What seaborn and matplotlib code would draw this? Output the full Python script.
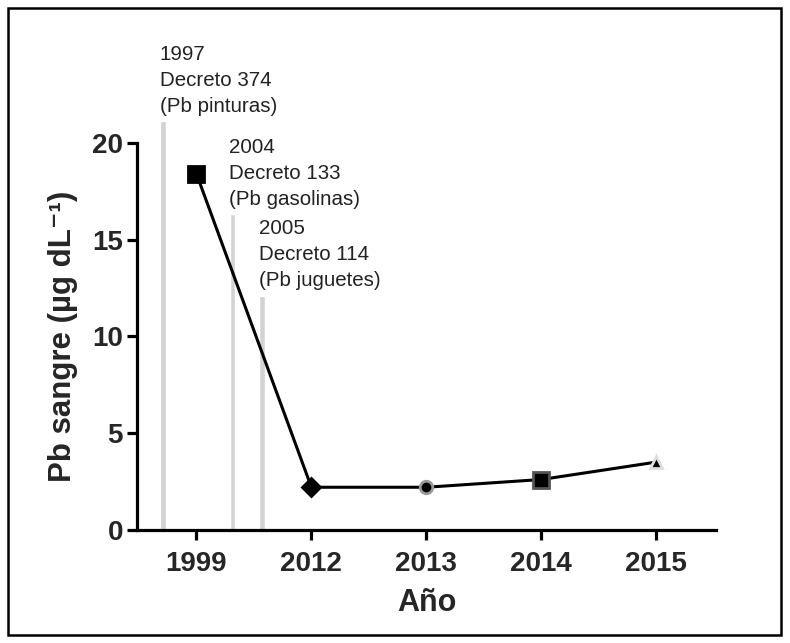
"""
plot.py — Pb en sangre por año, con decretos marcados como barras grises.
"""

import numpy as np
import matplotlib
matplotlib.use("Agg")
import matplotlib.pyplot as plt
from matplotlib.patches import Rectangle
import seaborn as sns

# datos
years = ["1999", "2012", "2013", "2014", "2015"]
pb_blood = [18.4, 2.2, 2.2, 2.6, 3.5]
point_markers = ["s", "D", "o", "s", "^"]
point_sizes = [11, 9, 9, 11, 8]
point_edges = ["black", "black", "#9a9a9a", "#555555", "#dddddd"]

decree_labels = [
    "1997\nDecreto 374\n(Pb pinturas)",
    "2004\nDecreto 133\n(Pb gasolinas)",
    "2005\nDecreto 114\n(Pb juguetes)",
]
decree_pos = [-0.29, 0.317, 0.57]
decree_top = [21.1, 16.3, 12.1]

sns.set_style("white")
plt.rcParams["font.family"] = ["Liberation Sans", "DejaVu Sans"]

fig = plt.figure(figsize=(7.9, 6.43), dpi=100)
ax = fig.add_axes([0.1734, 0.176, 0.733, 0.602])

x = np.arange(len(years))

# barras de los decretos
ax.bar(decree_pos, decree_top, width=0.045, color="#d3d3d3", clip_on=False, zorder=1)
for px, top, lab in zip(decree_pos, decree_top, decree_labels):
    ax.text(px - 0.03, top + 0.3, lab, ha="left", va="bottom", fontsize=14.8,
            color="#222222", clip_on=False, linespacing=1.45)

sns.lineplot(x=x, y=pb_blood, color="black", linewidth=2.2, ax=ax, zorder=3)
for xi, yi, m, s, ec in zip(x, pb_blood, point_markers, point_sizes, point_edges):
    ax.plot(xi, yi, marker=m, markersize=s, color="black", markeredgecolor=ec,
            markeredgewidth=2, linestyle="none", zorder=4, clip_on=False)

ax.set_xlim(-0.517, 4.52)
ax.set_ylim(0, 20)
ax.set_xticks(x)
ax.set_xticklabels(years)
ax.set_yticks([0, 5, 10, 15, 20])

sns.despine(ax=ax)
for side in ["left", "bottom"]:
    ax.spines[side].set_linewidth(2.3)
    ax.spines[side].set_color("black")
ax.tick_params(axis="both", direction="out", length=7, width=2.3, color="black",
               labelsize=20, left=True, bottom=True)
ax.tick_params(axis="y", pad=3)
ax.tick_params(axis="x", pad=8)
for lab in ax.get_xticklabels() + ax.get_yticklabels():
    lab.set_fontweight("bold")

ax.set_xlabel("Año", fontsize=22, fontweight="bold", labelpad=8)
ax.set_ylabel("Pb sangre (µg dL⁻¹)", fontsize=22.5, fontweight="bold", labelpad=10)

# marco negro alrededor de la figura
fig.patches.append(Rectangle((0.0095, 0.0125), 0.979, 0.975, transform=fig.transFigure,
                             fill=False, edgecolor="black", linewidth=1.8))

fig.savefig("out.png", dpi=100)
